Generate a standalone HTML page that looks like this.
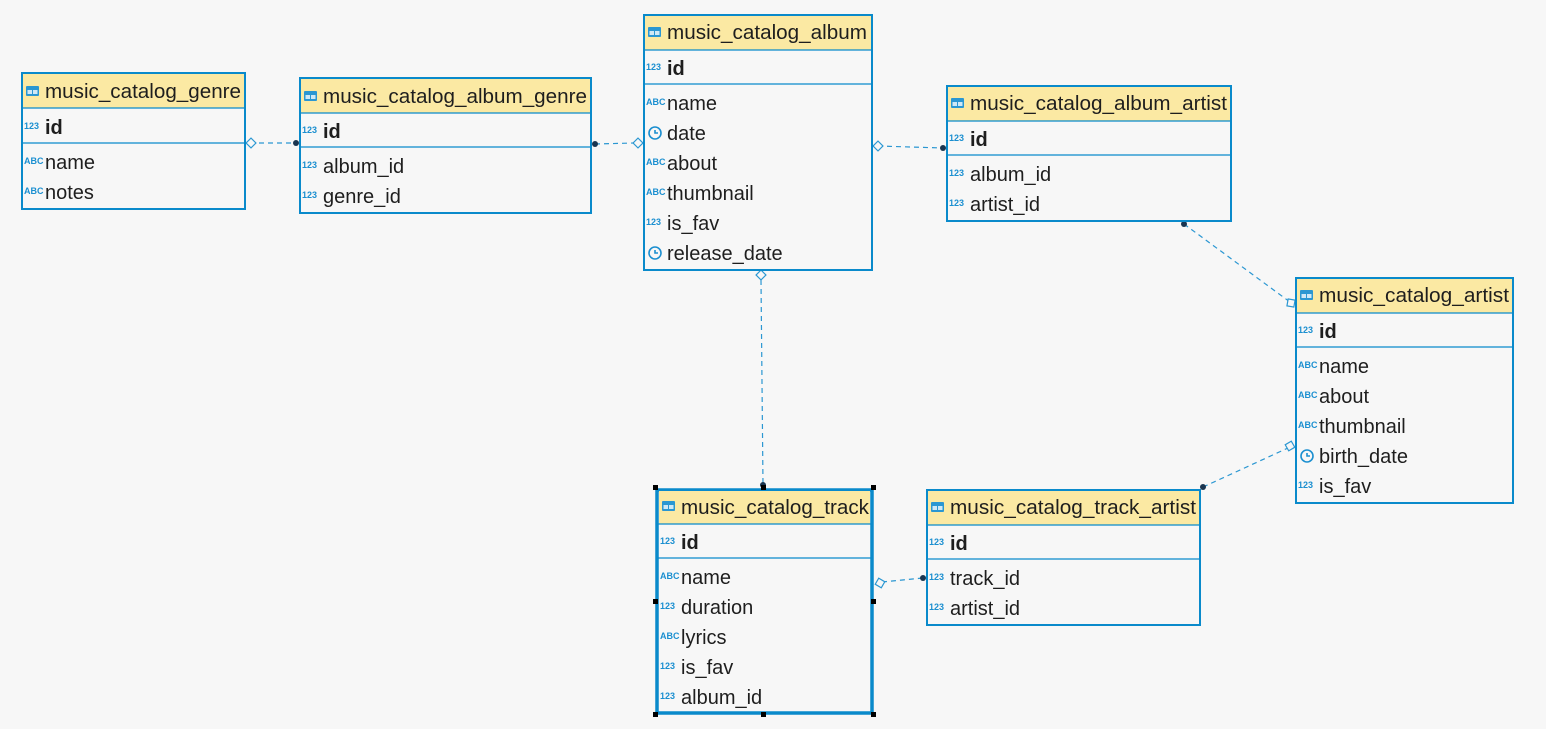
<!DOCTYPE html>
<html><head><meta charset="utf-8"><style>
html,body{margin:0;padding:0;background:#f7f7f7;}
svg{display:block}
text{font-family:"Liberation Sans","DejaVu Sans",sans-serif;font-size:20px;fill:#1e1e1e}
.b{font-weight:bold}
.i{font-size:9px;font-weight:bold;fill:#1b8fd0}
.hd{fill:#fbe9a3}
.box{fill:#f7f7f7;stroke:#0a8acb;stroke-width:2}
.ln{stroke:#0a8acb;stroke-width:1.2}
.c{stroke:#2b97d2;stroke-width:1.2;stroke-dasharray:5,4;fill:none}
.dm{fill:#f7f7f7;stroke:#2b97d2;stroke-width:1.2}
.dt{fill:#1a3550}
.ck{fill:none;stroke:#1b8fd0;stroke-width:1.6}
</style></head><body>
<svg width="1546" height="729" viewBox="0 0 1546 729">
<defs>
<g id="tb"><rect x="0" y="-5" width="13" height="10" fill="#2b97d2" rx="1"/><rect x="1.5" y="-1" width="4.5" height="4" fill="#cfe8f6"/><rect x="7" y="-1" width="4.5" height="4" fill="#cfe8f6"/></g>
<g id="ck"><circle class="ck" cx="7" cy="0" r="6"/><path class="ck" d="M7 -3 V0 H10"/></g>
</defs>

<line class="c" x1="250" y1="143" x2="296" y2="143"/>
<line class="c" x1="595" y1="144" x2="634" y2="143"/>
<line class="c" x1="878" y1="146" x2="943" y2="148"/>
<line class="c" x1="1184" y1="224" x2="1290" y2="302"/>
<line class="c" x1="761" y1="280" x2="763" y2="485"/>
<line class="c" x1="882" y1="582" x2="923" y2="578"/>
<line class="c" x1="1203" y1="487" x2="1288" y2="448"/>
<rect class="dm" x="-3.5" y="-3.5" width="7" height="7" transform="translate(251,143) rotate(45)"/>
<rect class="dm" x="-3.5" y="-3.5" width="7" height="7" transform="translate(638,143) rotate(45)"/>
<rect class="dm" x="-3.5" y="-3.5" width="7" height="7" transform="translate(878,146) rotate(45)"/>
<rect class="dm" x="-3.5" y="-3.5" width="7" height="7" transform="translate(761,275) rotate(45)"/>
<rect class="dm" x="-3.5" y="-3.5" width="7" height="7" transform="translate(880,583) rotate(30)"/>
<rect class="dm" x="-3.5" y="-3.5" width="7" height="7" transform="translate(1291,303) rotate(10)"/>
<rect class="dm" x="-3.5" y="-3.5" width="7" height="7" transform="translate(1290,446) rotate(60)"/>
<circle class="dt" cx="296" cy="143" r="3"/>
<circle class="dt" cx="595" cy="144" r="3"/>
<circle class="dt" cx="943" cy="148" r="3"/>
<circle class="dt" cx="1184" cy="224" r="3"/>
<circle class="dt" cx="763" cy="485" r="3"/>
<circle class="dt" cx="923" cy="578" r="3"/>
<circle class="dt" cx="1203" cy="487" r="3"/>

<!-- genre -->
<rect class="box" x="22" y="73" width="223" height="136"/>
<rect class="hd" x="23" y="74" width="221" height="34"/>
<line class="ln" x1="22" y1="108" x2="245" y2="108"/><line class="ln" x1="22" y1="143" x2="245" y2="143"/>
<use href="#tb" x="26" y="91"/>
<text x="45" y="98" textLength="196" lengthAdjust="spacingAndGlyphs">music_catalog_genre</text>
<text class="i" x="24" y="129">123</text><text class="b" x="45" y="134">id</text>
<text class="i" x="24" y="164">ABC</text><text x="45" y="169">name</text>
<text class="i" x="24" y="194">ABC</text><text x="45" y="199">notes</text>

<!-- album_genre -->
<rect class="box" x="300" y="78" width="291" height="135"/>
<rect class="hd" x="301" y="79" width="289" height="34"/>
<line class="ln" x1="300" y1="113" x2="591" y2="113"/><line class="ln" x1="300" y1="147" x2="591" y2="147"/>
<use href="#tb" x="304" y="96"/>
<text x="323" y="103" textLength="264" lengthAdjust="spacingAndGlyphs">music_catalog_album_genre</text>
<text class="i" x="302" y="133">123</text><text class="b" x="323" y="138">id</text>
<text class="i" x="302" y="168">123</text><text x="323" y="173">album_id</text>
<text class="i" x="302" y="198">123</text><text x="323" y="203">genre_id</text>

<!-- album -->
<rect class="box" x="644" y="15" width="228" height="255"/>
<rect class="hd" x="645" y="16" width="226" height="34"/>
<line class="ln" x1="644" y1="50" x2="872" y2="50"/><line class="ln" x1="644" y1="84" x2="872" y2="84"/>
<use href="#tb" x="648" y="32"/>
<text x="667" y="39" textLength="200" lengthAdjust="spacingAndGlyphs">music_catalog_album</text>
<text class="i" x="646" y="70">123</text><text class="b" x="667" y="75">id</text>
<text class="i" x="646" y="105">ABC</text><text x="667" y="110">name</text>
<use href="#ck" x="648" y="133"/><text x="667" y="140">date</text>
<text class="i" x="646" y="165">ABC</text><text x="667" y="170">about</text>
<text class="i" x="646" y="195">ABC</text><text x="667" y="200">thumbnail</text>
<text class="i" x="646" y="225">123</text><text x="667" y="230">is_fav</text>
<use href="#ck" x="648" y="253"/><text x="667" y="260">release_date</text>

<!-- album_artist -->
<rect class="box" x="947" y="86" width="284" height="135"/>
<rect class="hd" x="948" y="87" width="282" height="34"/>
<line class="ln" x1="947" y1="121" x2="1231" y2="121"/><line class="ln" x1="947" y1="155" x2="1231" y2="155"/>
<use href="#tb" x="951" y="103"/>
<text x="970" y="110" textLength="257" lengthAdjust="spacingAndGlyphs">music_catalog_album_artist</text>
<text class="i" x="949" y="141">123</text><text class="b" x="970" y="146">id</text>
<text class="i" x="949" y="176">123</text><text x="970" y="181">album_id</text>
<text class="i" x="949" y="206">123</text><text x="970" y="211">artist_id</text>

<!-- artist -->
<rect class="box" x="1296" y="278" width="217" height="225"/>
<rect class="hd" x="1297" y="279" width="215" height="34"/>
<line class="ln" x1="1296" y1="313" x2="1513" y2="313"/><line class="ln" x1="1296" y1="347" x2="1513" y2="347"/>
<use href="#tb" x="1300" y="295"/>
<text x="1319" y="302" textLength="190" lengthAdjust="spacingAndGlyphs">music_catalog_artist</text>
<text class="i" x="1298" y="333">123</text><text class="b" x="1319" y="338">id</text>
<text class="i" x="1298" y="368">ABC</text><text x="1319" y="373">name</text>
<text class="i" x="1298" y="398">ABC</text><text x="1319" y="403">about</text>
<text class="i" x="1298" y="428">ABC</text><text x="1319" y="433">thumbnail</text>
<use href="#ck" x="1300" y="456"/><text x="1319" y="463">birth_date</text>
<text class="i" x="1298" y="488">123</text><text x="1319" y="493">is_fav</text>

<!-- track -->
<rect class="box" x="657" y="490" width="215" height="223" style="stroke-width:3.5"/>
<rect class="hd" x="659" y="491" width="211" height="33"/>
<line class="ln" x1="657" y1="524" x2="872" y2="524"/><line class="ln" x1="657" y1="558" x2="872" y2="558"/>
<use href="#tb" x="662" y="506"/>
<text x="681" y="514" textLength="188" lengthAdjust="spacingAndGlyphs">music_catalog_track</text>
<text class="i" x="660" y="544">123</text><text class="b" x="681" y="549">id</text>
<text class="i" x="660" y="579">ABC</text><text x="681" y="584">name</text>
<text class="i" x="660" y="609">123</text><text x="681" y="614">duration</text>
<text class="i" x="660" y="639">ABC</text><text x="681" y="644">lyrics</text>
<text class="i" x="660" y="669">123</text><text x="681" y="674">is_fav</text>
<text class="i" x="660" y="699">123</text><text x="681" y="704">album_id</text>
<g fill="#000">
<rect x="653" y="485" width="5" height="5"/><rect x="761" y="485" width="5" height="5"/><rect x="871" y="485" width="5" height="5"/>
<rect x="653" y="599" width="5" height="5"/><rect x="871" y="599" width="5" height="5"/>
<rect x="653" y="712" width="5" height="5"/><rect x="761" y="712" width="5" height="5"/><rect x="871" y="712" width="5" height="5"/>
</g>

<!-- track_artist -->
<rect class="box" x="927" y="490" width="273" height="135"/>
<rect class="hd" x="928" y="491" width="271" height="34"/>
<line class="ln" x1="927" y1="525" x2="1200" y2="525"/><line class="ln" x1="927" y1="559" x2="1200" y2="559"/>
<use href="#tb" x="931" y="507"/>
<text x="950" y="514" textLength="246" lengthAdjust="spacingAndGlyphs">music_catalog_track_artist</text>
<text class="i" x="929" y="545">123</text><text class="b" x="950" y="550">id</text>
<text class="i" x="929" y="580">123</text><text x="950" y="585">track_id</text>
<text class="i" x="929" y="610">123</text><text x="950" y="615">artist_id</text>
</svg>
</body></html>
